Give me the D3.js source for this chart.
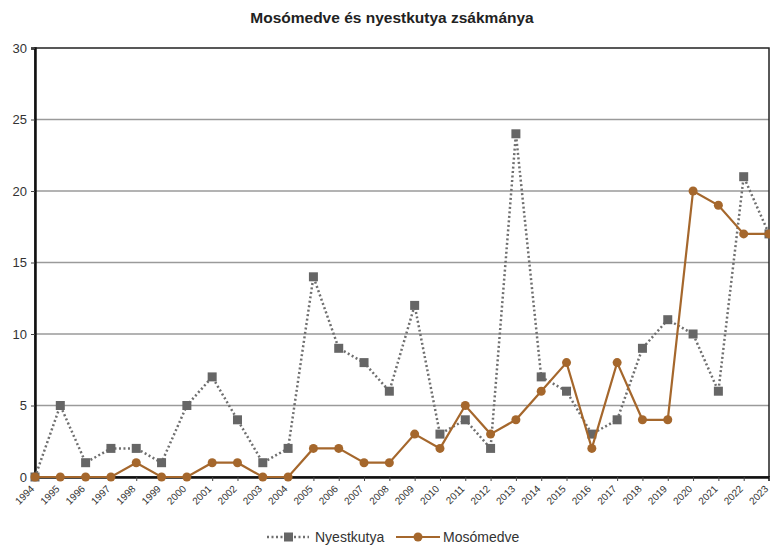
<!DOCTYPE html>
<html>
<head>
<meta charset="utf-8">
<script src="https://cdn.jsdelivr.net/npm/d3@7"></script>
<style>
  body { margin: 0; background: #fff; }
  text { font-family: "Liberation Sans", Arial, sans-serif; }
</style>
</head>
<body>
<script>
// data
var years = [1994, 1995, 1996, 1997, 1998, 1999, 2000, 2001, 2002, 2003, 2004, 2005, 2006, 2007, 2008,
  2009, 2010, 2011, 2012, 2013, 2014, 2015, 2016, 2017, 2018, 2019, 2020, 2021, 2022, 2023];
var nyestkutya = [0, 5, 1, 2, 2, 1, 5, 7, 4, 1, 2, 14, 9, 8, 6, 12, 3, 4, 2, 24, 7, 6, 3, 4, 9, 11, 10, 6, 21, 17];
var mosomedve = [0, 0, 0, 0, 1, 0, 0, 1, 1, 0, 0, 2, 2, 1, 1, 3, 2, 5, 3, 4, 6, 8, 2, 8, 4, 4, 20, 19, 17, 17];
var yTicks = [0, 5, 10, 15, 20, 25, 30];

var title = "Mosómedve és nyestkutya zsákmánya";
var grayColor = "#666666", brownColor = "#a5672c";

var margin = {top: 48, right: 1, bottom: 71, left: 35},
  totalWidth = 770,
  totalHeight = 548,
  dataWidth = totalWidth - margin.left - margin.right,
  dataHeight = totalHeight - margin.top - margin.bottom;

var svg = d3.select("body").append("svg")
  .attr("width", totalWidth)
  .attr("height", totalHeight);

var xScale = d3.scalePoint().domain(years).range([0, dataWidth]);
var yScale = d3.scaleLinear().domain([0, 30]).range([dataHeight, 0]);

var g = svg.append("g").attr("transform", "translate(" + margin.left + "," + margin.top + ")");

// title
svg.append("text")
  .attr("x", 392).attr("y", 23)
  .attr("text-anchor", "middle")
  .style("font-size", "15.5px").style("font-weight", "bold").style("fill", "#222")
  .text(title);

// gridlines
g.append("g").selectAll("line")
  .data(yTicks.filter(d => d > 0 && d < 30))
  .enter().append("line")
  .attr("x1", 0).attr("x2", dataWidth)
  .attr("y1", d => yScale(d)).attr("y2", d => yScale(d))
  .style("stroke", "#9a9a9a").style("stroke-width", 1.3);

// frame
g.append("rect")
  .attr("x", 0).attr("y", 0).attr("width", dataWidth).attr("height", dataHeight)
  .style("fill", "none").style("stroke", "#222").style("stroke-width", 1.5);

// y axis
var yAxis = d3.axisLeft(yScale).tickValues(yTicks).tickSize(4).tickPadding(4);
var yg = g.append("g").call(yAxis);
yg.select(".domain").style("stroke", "#111").style("stroke-width", 2.5);
yg.selectAll(".tick line").style("stroke", "#444");
yg.selectAll(".tick text").style("font-size", "13px").style("fill", "#333");

// x axis
var xAxis = d3.axisBottom(xScale).tickSize(4);
var xg = g.append("g").attr("transform", "translate(0," + dataHeight + ")").call(xAxis);
xg.select(".domain").style("stroke", "#111").style("stroke-width", 2.5);
xg.selectAll(".tick line").style("stroke", "#444");
xg.selectAll(".tick text")
  .style("font-size", "10px").style("fill", "#333")
  .attr("text-anchor", "end")
  .attr("x", 0).attr("y", 0)
  .attr("dx", 0).attr("dy", "0.35em")
  .attr("transform", "translate(-3,10) rotate(-45)");

// lines
var lineN = d3.line().x((d, i) => xScale(years[i])).y(d => yScale(d));

g.append("path")
  .datum(nyestkutya)
  .attr("d", lineN)
  .style("fill", "none").style("stroke", "#6f6f6f")
  .style("stroke-width", 2.5).style("stroke-dasharray", "2,2.5");

g.append("g").selectAll("rect")
  .data(nyestkutya)
  .enter().append("rect")
  .attr("x", (d, i) => xScale(years[i]) - 4.5)
  .attr("y", d => yScale(d) - 4.5)
  .attr("width", 9).attr("height", 9)
  .style("fill", grayColor);

g.append("path")
  .datum(mosomedve)
  .attr("d", lineN)
  .style("fill", "none").style("stroke", brownColor).style("stroke-width", 2.2);

g.append("g").selectAll("circle")
  .data(mosomedve)
  .enter().append("circle")
  .attr("cx", (d, i) => xScale(years[i]))
  .attr("cy", d => yScale(d))
  .attr("r", 4.5)
  .style("fill", brownColor);

// legend
var legend = svg.append("g").attr("transform", "translate(0,537)");
legend.append("line")
  .attr("x1", 267).attr("x2", 309).attr("y1", 0).attr("y2", 0)
  .style("stroke", "#6f6f6f").style("stroke-width", 2.5).style("stroke-dasharray", "2,2.5");
legend.append("rect")
  .attr("x", 284).attr("y", -4.5).attr("width", 9).attr("height", 9)
  .style("fill", grayColor);
legend.append("text")
  .attr("x", 315).attr("y", 5)
  .style("font-size", "14px").style("fill", "#333")
  .text("Nyestkutya");
legend.append("line")
  .attr("x1", 396).attr("x2", 440).attr("y1", 0).attr("y2", 0)
  .style("stroke", brownColor).style("stroke-width", 2.2);
legend.append("circle")
  .attr("cx", 418).attr("cy", 0).attr("r", 4.5)
  .style("fill", brownColor);
legend.append("text")
  .attr("x", 443).attr("y", 5)
  .style("font-size", "14px").style("fill", "#333")
  .text("Mosómedve");
</script>
</body>
</html>
